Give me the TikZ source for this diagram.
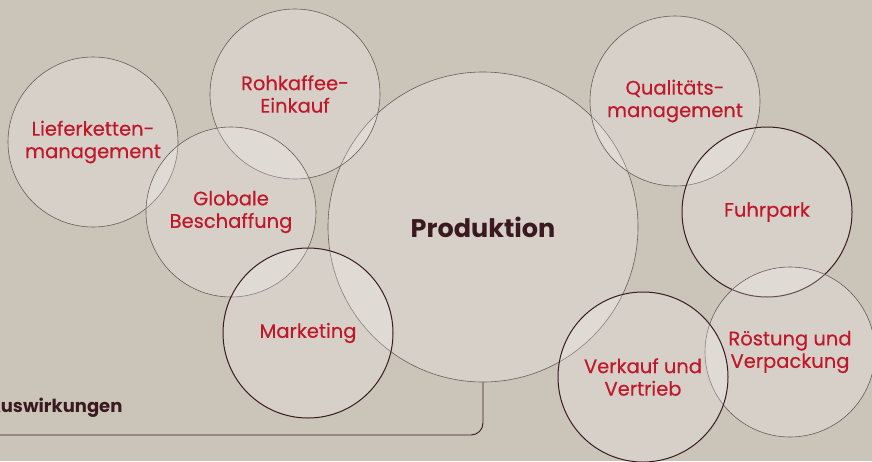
\documentclass[tikz,border=0pt]{standalone}
\usepackage{fontspec}
\setmainfont{Poppins}
\newfontfamily\labelfont{Poppins}[FakeBold=0.35]
\definecolor{bg}{HTML}{CBC4B9}
\definecolor{txtred}{HTML}{C0182A}
\definecolor{darkline}{HTML}{3A1C22}
\definecolor{lightline}{HTML}{6E5A5B}
\definecolor{darktxt}{HTML}{3A1A20}
\tikzset{
  bubble/.style={circle, inner sep=0pt, minimum size=170pt, fill=white, fill opacity=0.22,
    text opacity=1, draw=lightline, draw opacity=1, line width=0.6pt, text=txtred,
    align=center, font=\labelfont\fontsize{19.5}{22.5}\selectfont},
  darkbubble/.style={bubble, draw=darkline, line width=1pt},
  connector/.style={draw=darkline, line width=0.9pt, rounded corners=12pt}
}
\begin{document}
\begin{tikzpicture}[x=1pt,y=-1pt]
\useasboundingbox (0,0) rectangle (872,461);
\fill[bg] (0,0) rectangle (872,461);
\clip (0,0) rectangle (872,461);
\node[bubble, minimum size=310pt, text=darktxt, font=\fontsize{25.5}{28}\bfseries\selectfont] (prod) at (483,227) {Produktion};
\node[bubble] (liefer) at (93,142) {Lieferketten-\\management};
\node[bubble] (roh) at (295,94) {Rohkaffee-\\Einkauf};
\node[bubble] (glob) at (231,212) {Globale\\Beschaffung};
\node[darkbubble] (mark) at (308,333) {Marketing};
\node[bubble] (qual) at (675,101) {Qualitäts-\\management};
\node[darkbubble] (fuhr) at (767,212) {Fuhrpark};
\node[bubble] (roest) at (790,352) {Röstung und\\Verpackung};
\node[darkbubble] (verk) at (643,377) {Verkauf und\\Vertrieb};
\node[anchor=base east, text=darktxt, font=\fontsize{18}{20}\bfseries\selectfont] (ausw) at (126,412) {Auswirkungen};
\coordinate (lineend) at (-20,435);
\draw[connector] (prod.south) |- (lineend);
\end{tikzpicture}
\end{document}
